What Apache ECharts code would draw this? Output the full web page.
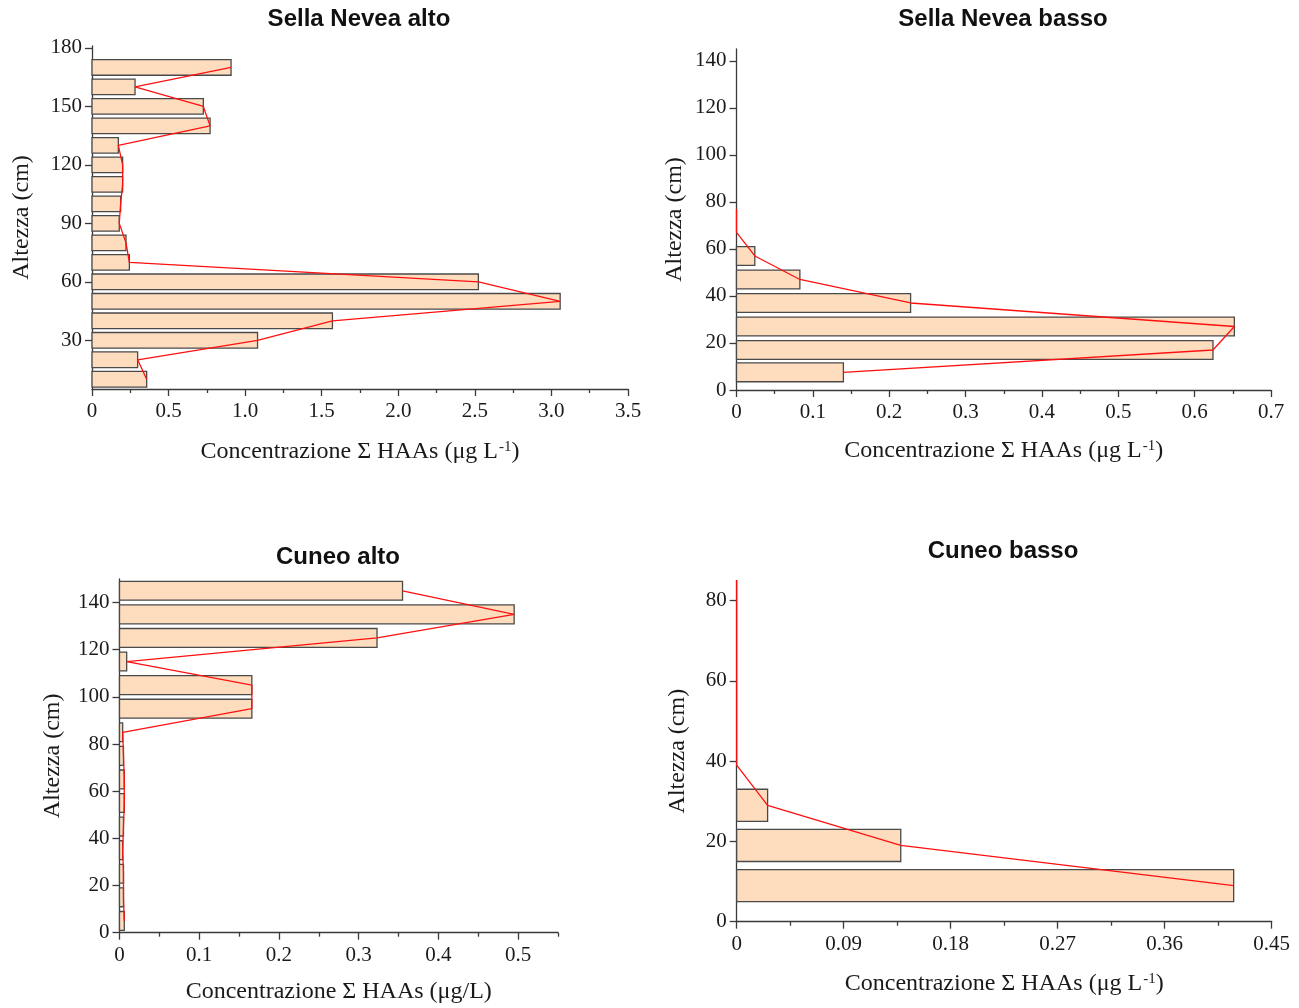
<!DOCTYPE html>
<html>
<head>
<meta charset="utf-8">
<script src="https://cdn.jsdelivr.net/npm/echarts@6.0.0/dist/echarts.min.js"></script>
<style>
  html, body { margin: 0; padding: 0; background: #ffffff; }
  #chart { width: 1299px; height: 1008px; }
</style>
</head>
<body>
<div id="chart"></div>
<script>
// ---- Sella Nevea alto: sampling height (cm) and Σ HAAs (µg/L) ----
const snAltoHeights = [170, 160, 150, 140, 130, 120, 110, 100, 90, 80, 70, 60, 50, 40, 30, 20, 10];
const snAltoValues  = [0.908, 0.281, 0.727, 0.771, 0.172, 0.200, 0.200, 0.187, 0.178, 0.222, 0.244, 2.523, 3.057, 1.570, 1.081, 0.298, 0.357];
const snAltoXTicks  = [0, 0.5, 1.0, 1.5, 2.0, 2.5, 3.0, 3.5];
const snAltoYTicks  = [30, 60, 90, 120, 150, 180];

// ---- Sella Nevea basso ----
const snBassoHeights = [7.5, 17, 27, 37, 47, 57, 67, 77];
const snBassoValues  = [0.140, 0.624, 0.652, 0.228, 0.083, 0.024, 0, 0];
const snBassoXTicks  = [0, 0.1, 0.2, 0.3, 0.4, 0.5, 0.6, 0.7];
const snBassoYTicks  = [0, 20, 40, 60, 80, 100, 120, 140];

// ---- Cuneo alto ----
const cuAltoHeights = [145, 135, 125, 115, 105, 95, 85, 75, 65, 55, 45, 35, 25, 15, 5];
const cuAltoValues  = [0.355, 0.495, 0.323, 0.009, 0.166, 0.166, 0.004, 0.005, 0.006, 0.006, 0.005, 0.004, 0.005, 0.005, 0.006];
const cuAltoXTicks  = [0, 0.1, 0.2, 0.3, 0.4, 0.5];
const cuAltoYTicks  = [0, 20, 40, 60, 80, 100, 120, 140];

// ---- Cuneo basso ----
const cuBassoHeights = [9, 19, 29, 39, 49, 59, 69, 79, 89];
const cuBassoValues  = [0.418, 0.138, 0.026, 0, 0, 0, 0, 0, 0];
const cuBassoXTicks  = [0, 0.09, 0.18, 0.27, 0.36, 0.45];
const cuBassoYTicks  = [0, 20, 40, 60, 80];

const NAME_UL = 'Concentrazione Σ HAAs (μg L{sup|-1})';
const NAME_SLASH = 'Concentrazione Σ HAAs (μg/L)';

// half thickness of each horizontal bar, in cm
const BAR_HALF = 4;

const SERIF = "'Liberation Serif', 'Times New Roman', serif";
const SANS = "'Liberation Sans', Arial, sans-serif";
const INK = '#1a1a1a';
const AXIS = '#3a3a3a';

const panels = [
  { title: 'Sella Nevea alto', titleX: 359, titleY: 19,
    heights: snAltoHeights, values: snAltoValues, xTicks: snAltoXTicks, yTicks: snAltoYTicks,
    xMax: 3.5, yMin: 5, yMax: 181, dec: 1, xName: NAME_UL,
    grid: { left: 92, top: 46, width: 536, height: 343 }, xNameGap: 51, yNameGap: 58 },
  { title: 'Sella Nevea basso', titleX: 1003, titleY: 19,
    heights: snBassoHeights, values: snBassoValues, xTicks: snBassoXTicks, yTicks: snBassoYTicks,
    xMax: 0.7, yMin: 0, yMax: 145, dec: 1, xName: NAME_UL,
    grid: { left: 736.5, top: 49, width: 534.5, height: 341 }, xNameGap: 49, yNameGap: 50 },
  { title: 'Cuneo alto', titleX: 338, titleY: 557,
    heights: cuAltoHeights, values: cuAltoValues, xTicks: cuAltoXTicks, yTicks: cuAltoYTicks,
    xMax: 0.55, yMin: 0, yMax: 150, dec: 1, xName: NAME_SLASH,
    grid: { left: 119.5, top: 579, width: 438.5, height: 353.7 }, xNameGap: 47, yNameGap: 55 },
  { title: 'Cuneo basso', titleX: 1003, titleY: 551,
    heights: cuBassoHeights, values: cuBassoValues, xTicks: cuBassoXTicks, yTicks: cuBassoYTicks,
    xMax: 0.45, yMin: 0, yMax: 85, dec: 2, xName: NAME_UL,
    grid: { left: 736.7, top: 580.6, width: 535, height: 341.1 }, xNameGap: 50, yNameGap: 47 }
];

function minorTicks(major, max) {
  const out = [];
  for (let i = 0; i < major.length - 1; i++) out.push((major[i] + major[i + 1]) / 2);
  const step = major[1] - major[0];
  const next = major[major.length - 1] + step / 2;
  if (next <= max + 1e-9) out.push(next);
  return out;
}

const option = {
  animation: false,
  backgroundColor: '#ffffff',
  grid: [], xAxis: [], yAxis: [], series: [], graphic: []
};

panels.forEach((p, i) => {
  option.grid.push(Object.assign({ containLabel: false }, p.grid));

  const lineStyle = { color: AXIS, width: 1.3 };
  const xi = option.xAxis.length;

  // main x axis: line, major ticks, labels, name
  option.xAxis.push({
    type: 'value', gridIndex: i, min: 0, max: p.xMax, position: 'bottom',
    name: p.xName, nameLocation: 'middle', nameGap: p.xNameGap,
    nameTextStyle: {
      fontFamily: SERIF, fontSize: 24, color: INK,
      rich: { sup: { fontFamily: SERIF, fontSize: 15, color: INK, verticalAlign: 'top', padding: [0, 0, 0, 1] } }
    },
    axisLine: { show: true, onZero: false, lineStyle },
    axisTick: { show: true, inside: false, length: 7, customValues: p.xTicks, lineStyle },
    axisLabel: {
      show: true, customValues: p.xTicks, margin: 12,
      fontFamily: SERIF, fontSize: 21, color: INK,
      formatter: v => (Math.abs(v) < 1e-12 ? '0' : Number(v).toFixed(p.dec))
    },
    splitLine: { show: false }
  });
  // companion x axis carrying the short minor ticks
  option.xAxis.push({
    type: 'value', gridIndex: i, min: 0, max: p.xMax, position: 'bottom',
    axisLine: { show: false, onZero: false },
    axisTick: { show: true, inside: false, length: 4, customValues: minorTicks(p.xTicks, p.xMax), lineStyle },
    axisLabel: { show: false },
    splitLine: { show: false }
  });

  option.yAxis.push({
    type: 'value', gridIndex: i, min: p.yMin, max: p.yMax, position: 'left',
    name: 'Altezza (cm)', nameLocation: 'middle', nameGap: p.yNameGap, nameRotate: 90,
    nameTextStyle: { fontFamily: SERIF, fontSize: 24, color: INK },
    axisLine: { show: true, onZero: false, lineStyle },
    axisTick: { show: true, inside: false, length: 7, customValues: p.yTicks, lineStyle },
    axisLabel: { show: true, customValues: p.yTicks, margin: 10, fontFamily: SERIF, fontSize: 21, color: INK },
    splitLine: { show: false }
  });

  const data = p.heights.map((h, k) => [p.values[k], h]);

  option.series.push({
    type: 'custom', xAxisIndex: xi, yAxisIndex: i, z: 2,
    encode: { x: 0, y: 1 },
    data,
    renderItem: (params, api) => {
      const v = api.value(0), h = api.value(1);
      if (!(v > 0)) return null;
      const a = api.coord([0, h + BAR_HALF]);
      const b = api.coord([v, h - BAR_HALF]);
      return {
        type: 'rect',
        shape: { x: a[0], y: a[1], width: b[0] - a[0], height: b[1] - a[1] },
        style: { fill: '#FEDDBE', stroke: '#4a4a4a', lineWidth: 1.3 }
      };
    }
  });

  option.series.push({
    type: 'line', xAxisIndex: xi, yAxisIndex: i, z: 5,
    data, symbol: 'none', clip: true,
    lineStyle: { color: '#FF1010', width: 1.3 }
  });

  option.graphic.push({
    type: 'text', x: p.titleX, y: p.titleY,
    style: { text: p.title, textAlign: 'center', textVerticalAlign: 'middle',
             font: 'bold 24px ' + SANS, fill: '#111111' }
  });
});

const chart = echarts.init(document.getElementById('chart'), null, { renderer: 'canvas' });
chart.setOption(option);
</script>
</body>
</html>
